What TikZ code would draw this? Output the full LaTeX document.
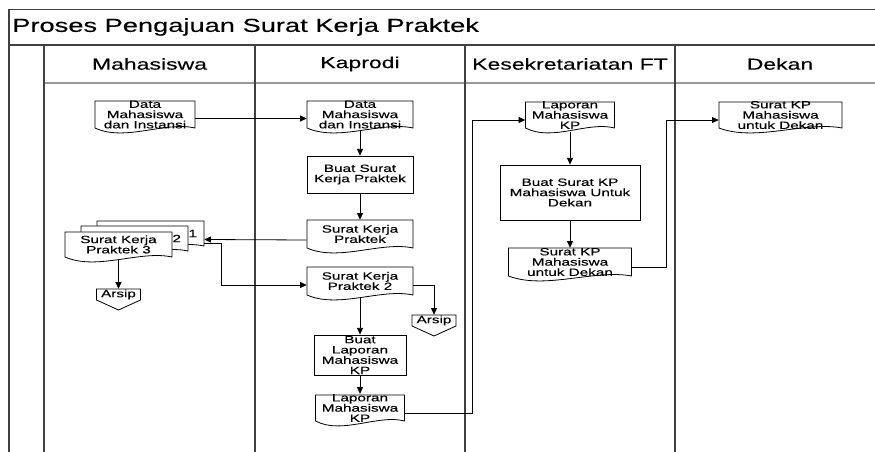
\documentclass[tikz,border=0pt]{standalone}
\usepackage{fontspec}
\setmainfont{Liberation Sans}[FakeStretch=1.45,FakeBold=0.2]
\usepackage{tikz}
\usetikzlibrary{arrows.meta}
\usetikzlibrary{calc}
\tikzstyle{lane}=[draw=black!75,line width=1.4pt]
\tikzstyle{shp}=[draw=black,fill=white,line width=0.6pt]
\tikzstyle{txt}=[inner sep=0pt,align=center,font=\fontsize{7.9}{7.7}\selectfont]
\tikzstyle{flow}=[draw=black,line width=0.6pt,-{Triangle[length=5pt,width=4.5pt]}]

\begin{document}
\begin{tikzpicture}[x=0.75pt,y=-0.75pt]
  \useasboundingbox (0,0) rectangle (875,452);

  % frame and lanes
  \draw[lane] (9,452) -- (9,9.5) -- (875,9.5);
  \draw[lane] (9,45) -- (875,45);
  \draw[lane,draw=black!40] (44,83) -- (875,83);
  \foreach \x in {44,255,465,675}{
    \draw[lane] (\x,45) -- (\x,452);
  }
  \node[anchor=west,inner sep=0pt,font=\fontsize{14.1}{16}\selectfont] (title) at (12,27) {Proses Pengajuan Surat Kerja Praktek};
  \foreach \n/\x/\txt in {mhs/149.5/Mahasiswa,kap/360/Kaprodi,kes/570/Kesekretariatan FT,dek/780/Dekan}{
    \node[font=\fontsize{11.9}{14}\selectfont] (\n) at (\x,64) {\txt};
  }

  % documents
  \foreach \n/\x/\y/\w/\h/\txt in {dataM/95/101/100/27/{Data\\Mahasiswa\\dan Instansi},
      dataK/307/101/106/27/{Data\\Mahasiswa\\dan Instansi},
      skp/307/220/106/28/{Surat Kerja\\Praktek},
      skp2/307/267/106/28/{Surat Kerja\\Praktek 2},
      lapK/315.5/395/89/26/{Laporan\\Mahasiswa\\KP},
      lapS/525.5/102/89/26/{Laporan\\Mahasiswa\\KP},
      skpD/508.5/248/123/28/{Surat KP\\Mahasiswa\\untuk Dekan},
      skpDek/719/102/123/26/{Surat KP\\Mahasiswa\\untuk Dekan},
      stk1/97/221/107/25/{},
      stk2/81/226/107/25/{},
      stk3/65/232/107/25/{Surat Kerja\\Praktek 3}}{
    \draw[shp] (\x,\y) -- (\x,\y+\h) .. controls (\x+0.3*\w,\y+\h+14) and (\x+0.7*\w,\y+\h-7) .. (\x+\w,\y+\h) -- (\x+\w,\y) -- cycle;
    \node[txt,minimum width=\w*0.75pt,minimum height=\h*0.75pt] (\n) at (\x+0.5*\w,\y+0.5*\h) {\txt};
  }
  \node[txt,anchor=east] (no1) at ($(stk1.east)+(-7,0)$) {1};
  \node[txt,anchor=east] (no2) at ($(stk2.east)+(-7,0)$) {2};

  % archives
  \foreach \n/\x/\y in {ars1/96.5/289,ars2/412/315}{
    \draw[shp] (\x,\y) -- (\x+44,\y) -- (\x+44,\y+11) -- (\x+22,\y+21) -- (\x,\y+11) -- cycle;
    \node[txt,minimum width=44*0.75pt,minimum height=11*0.75pt] (\n) at (\x+22,\y+5.5) {Arsip};
  }

  % processes
  \foreach \n/\x/\y/\w/\h/\txt in {bsk/307/156/106/37/{Buat Surat\\Kerja Praktek},
      blm/314/335/92/40/{Buat\\Laporan\\Mahasiswa\\KP},
      bskd/500/165/140/55/{Buat Surat KP\\Mahasiswa Untuk\\Dekan}}{
    \node[txt,shp,minimum width=\w*0.75pt,minimum height=\h*0.75pt] (\n) at (\x+0.5*\w,\y+0.5*\h) {\txt};
  }

  % flows
  \draw[flow] ($(dataM.east)+(0,4)$) -- ($(dataK.west)+(0,4)$);
  \draw[flow] ([yshift=-2pt]dataK.south) -- (bsk);
  \draw[flow] (bsk) -- (skp);
  \draw[flow] ($(skp.west)+(0,6)$) -- ($(stk1.east)+(0,6)$);
  \draw[flow] ($(stk1.east)+(0,9.5)$) -- ++(17,0) |- ($(skp2.west)+(0,4)$);
  \draw[flow] ([yshift=-2pt]stk3.south) -- (ars1);
  \draw[flow] ($(skp2.east)+(0,4)$) -| (ars2);
  \draw[flow] ([yshift=-2pt]skp2.south) -- (blm);
  \draw[flow] (blm) -- (lapK);
  \draw[flow] ($(lapK.east)+(0,5)$) -- ++(68,0) |- ($(lapS.west)+(0,5)$);
  \draw[flow] ([yshift=-2pt]lapS.south) -- (bskd);
  \draw[flow] (bskd) -- (skpD);
  \draw[flow] ($(skpD.east)+(0,5)$) -- ++(35,0) |- ($(skpDek.west)+(0,5)$);
\end{tikzpicture}
\end{document}
